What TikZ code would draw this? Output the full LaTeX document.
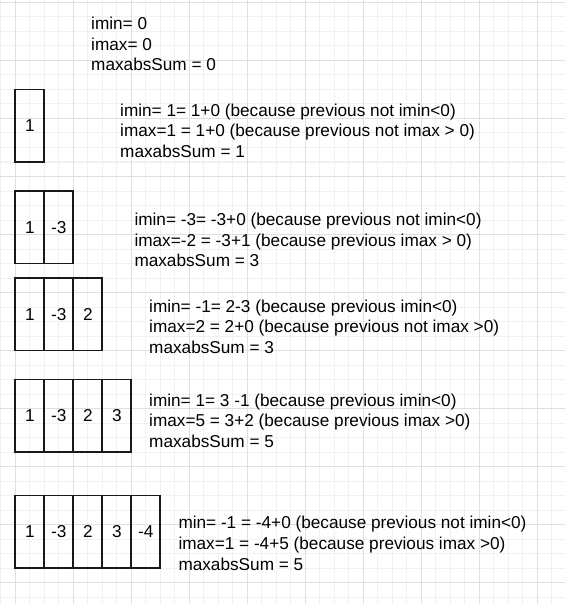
\documentclass[tikz,border=0pt]{standalone}
\usepackage{fontspec}
\setmainfont{Liberation Sans}
\definecolor{gridminor}{HTML}{F1F1F1}
\definecolor{gridmajor}{HTML}{DFDFDF}
\newcommand{\txtsize}{\fontsize{17.2}{20.7}\selectfont}

\begin{document}
\begin{tikzpicture}[x=1pt, y=-1pt,
    cell/.style={draw=black!90, line width=1.8pt, minimum width=29pt, minimum height=72.5pt, inner sep=0pt, font=\txtsize},
    note/.style={anchor=west, align=left, inner sep=0pt, font=\txtsize}]
\fill[white] (0,0) rectangle (565,604);
\useasboundingbox (0,0) rectangle (565,604);
% grid
\foreach \i in {0,...,38}
{
    \draw[gridminor, line width=1pt] ({0.8+14.5*\i},0) -- ({0.8+14.5*\i},604);
}
\foreach \j in {0,...,41}
{
    \draw[gridminor, line width=1pt] (0,{2.5+14.5*\j}) -- (565,{2.5+14.5*\j});
}
\foreach \i in {1,5,...,37}
{
    \draw[gridmajor, line width=1pt] ({0.8+14.5*\i},0) -- ({0.8+14.5*\i},604);
}
\foreach \j in {0,4,...,40}
{
    \draw[gridmajor, line width=1pt] (0,{2.5+14.5*\j}) -- (565,{2.5+14.5*\j});
}
% arrays
\foreach \r/\yc in {1/125.75, 2/227.25, 3/314.25, 4/415.75, 5/531.75}
{
    \foreach \v [count=\i] in {1,-3,2,3,-4}
    {
        \ifnum\i>\r\else
            \node[cell] (a\r\i) at ({29.8+29*(\i-1)},\yc) {\v};
        \fi
    }
}
% values
\node[note] (t0) at (91,46) {\strut imin= 0\\\strut imax= 0\\\strut maxabsSum = 0};
\node[note] (t1) at (120,132.7) {\strut imin= 1= 1+0 (because previous not imin<0)\\\strut imax=1 = 1+0 (because previous not imax > 0)\\\strut maxabsSum = 1};
\node[note] (t2) at (134.3,242) {\strut imin= -3= -3+0 (because previous not imin<0)\\\strut imax=-2 = -3+1 (because previous imax > 0)\\\strut maxabsSum = 3};
\node[note] (t3) at (149,328.7) {\strut imin= -1= 2-3 (because previous imin<0)\\\strut imax=2 = 2+0 (because previous not imax >0)\\\strut maxabsSum = 3};
\node[note] (t4) at (149,422.7) {\strut imin= 1= 3 -1 (because previous imin<0)\\\strut imax=5 = 3+2 (because previous imax >0)\\\strut maxabsSum = 5};
\node[note] (t5) at (178.3,545.3) {\strut min= -1 = -4+0 (because previous not imin<0)\\\strut imax=1 = -4+5 (because previous imax >0)\\\strut maxabsSum = 5};
\end{tikzpicture}
\end{document}
